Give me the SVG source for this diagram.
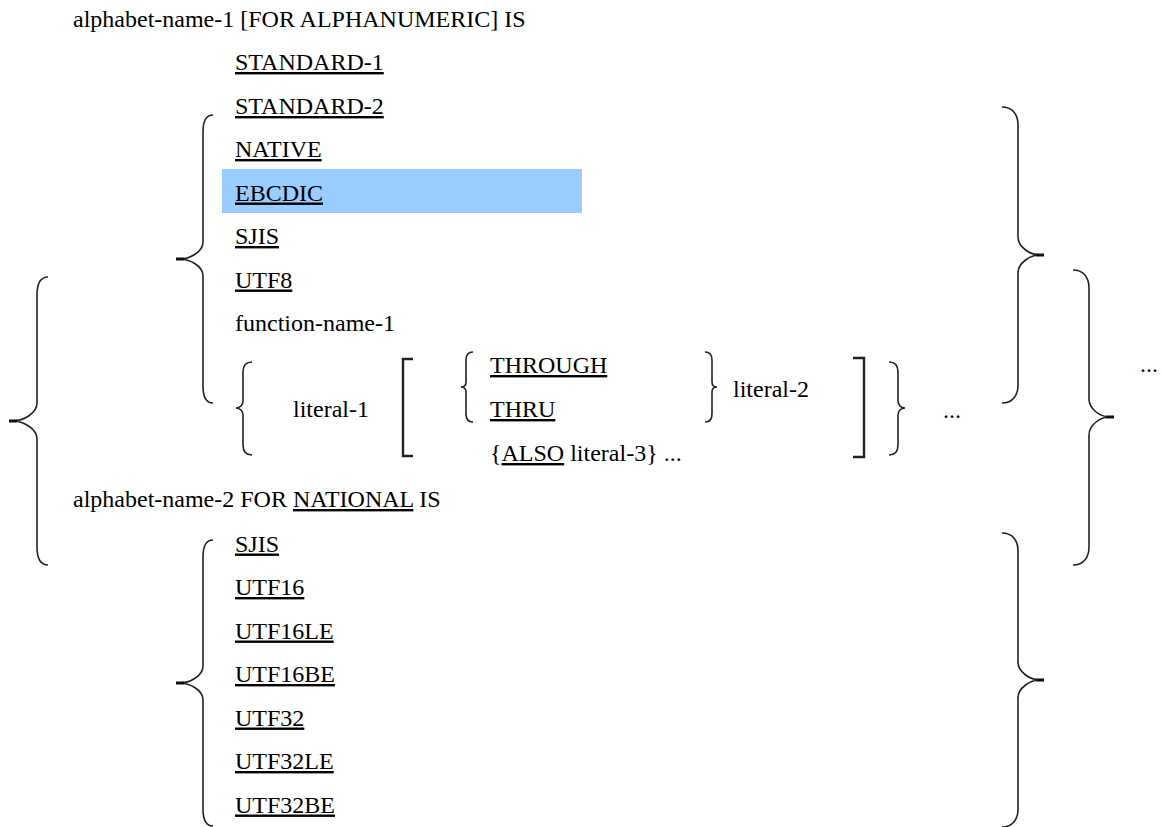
<svg xmlns="http://www.w3.org/2000/svg" width="1162" height="827" viewBox="0 0 1162 827">
<style>
text{font-family:"Liberation Serif","Times New Roman",serif;font-size:24px;fill:#000}
.u{text-decoration:underline}
.br{fill:none;stroke:#222;stroke-width:1.6;stroke-linecap:butt}
.sq{fill:none;stroke:#222;stroke-width:2.4}
.nub{fill:#111}
</style>
<rect width="1162" height="827" fill="#fff"/>
<g id="highlight"><rect x="222" y="169" width="360" height="44" fill="#99ccff"/></g>
<g id="header1"><text x="73" y="27">alphabet-name-1 [FOR ALPHANUMERIC] IS</text></g>
<g id="alnum-list">
<text class="u" x="235" y="70">STANDARD-1</text>
<text class="u" x="235" y="114">STANDARD-2</text>
<text class="u" x="235" y="157">NATIVE</text>
<text class="u" x="235" y="200.5">EBCDIC</text>
<text class="u" x="235" y="244">SJIS</text>
<text class="u" x="235" y="287.5">UTF8</text>
<text x="235" y="331">function-name-1</text>
</g>
<g id="literal-row">
<text x="293" y="417">literal-1</text>
<text class="u" x="490" y="373">THROUGH</text>
<text class="u" x="490" y="417">THRU</text>
<text x="733" y="397">literal-2</text>
<text x="490" y="461">{<tspan class="u">ALSO</tspan> literal-3} ...</text>
<text x="943" y="418">...</text>
</g>
<g id="header2"><text x="73" y="507">alphabet-name-2 FOR <tspan class="u">NATIONAL</tspan> IS</text></g>
<g id="national-list">
<text class="u" x="235" y="551.5">SJIS</text>
<text class="u" x="235" y="595">UTF16</text>
<text class="u" x="235" y="638.5">UTF16LE</text>
<text class="u" x="235" y="682">UTF16BE</text>
<text class="u" x="235" y="725.5">UTF32</text>
<text class="u" x="235" y="769">UTF32LE</text>
<text class="u" x="235" y="812.5">UTF32BE</text>
</g>
<g id="outer-ellipsis"><text x="1140" y="372">...</text></g>
<g id="connectors">
<path class="br" d="M48,277 C40,277 37,283 37,295 L37,403 C37,413 24,421 12,421 C24,421 37,429 37,439 L37,547 C37,559 40,565 48,565"/>
<rect class="nub" x="9" y="419.5" width="8" height="3"/>
<path class="br" d="M213,115 C206,115 203,121 203,132 L203,242 C203,252 190,259 179,259 C190,259 203,266 203,276 L203,386 C203,397 206,403 213,403"/>
<rect class="nub" x="176" y="257.5" width="8" height="3"/>
<path class="br" d="M213,540 C206,540 203,546 203,557 L203,666 C203,676 190,683 179,683 C190,683 203,690 203,700 L203,809 C203,820 206,826 213,826"/>
<rect class="nub" x="176" y="681.5" width="8" height="3"/>
<path class="br" d="M1002,107 C1013,107 1018,115 1018,125 L1018,237 C1018,247 1030,255 1040,255 C1030,255 1018,263 1018,273 L1018,385 C1018,395 1013,403 1002,403"/>
<rect class="nub" x="1036" y="253.5" width="8" height="3"/>
<path class="br" d="M1002,533 C1013,533 1018,541 1018,551 L1018,662 C1018,672 1030,680 1040,680 C1030,680 1018,688 1018,698 L1018,809 C1018,819 1013,827 1002,827"/>
<rect class="nub" x="1036" y="678.5" width="8" height="3"/>
<path class="br" d="M1073,270 C1084,270 1089,278 1089,288 L1089,399 C1089,409 1100,417 1110,417 C1100,417 1089,425 1089,435 L1089,547 C1089,557 1084,565 1073,565"/>
<rect class="nub" x="1106" y="415.5" width="8" height="3"/>
<path class="br" d="M252,362 C246,362 243,366 243,372 L243,401 C243,405 240,408 236,408 C240,408 243,411 243,415 L243,445 C243,451 246,455 252,455"/>
<path class="br" d="M889,362 C895,362 898,366 898,372 L898,401 C898,405 901,408 905,408 C901,408 898,411 898,415 L898,445 C898,451 895,455 889,455"/>
<path class="br" d="M473,352 C468,352 466,355 466,360 L466,382 C466,385 464,387 461,387 C464,387 466,389 466,392 L466,414 C466,419 468,422 473,422"/>
<path class="br" d="M705,352 C710,352 712,355 712,360 L712,382 C712,385 714,387 717,387 C714,387 712,389 712,392 L712,414 C712,419 710,422 705,422"/>
<path class="sq" d="M413,359 L403,359 L403,456 L413,456"/>
<path class="sq" d="M853,358 L864,358 L864,457 L853,457"/>
</g>
</svg>
